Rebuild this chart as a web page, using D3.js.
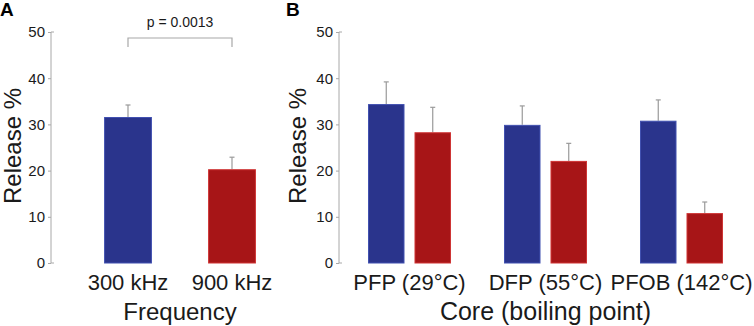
<!DOCTYPE html>
<html>
<head>
<meta charset="utf-8">
<script src="https://cdn.jsdelivr.net/npm/d3@7"></script>
<style>
  html, body { margin: 0; padding: 0; background: #fff; }
  svg { display: block; font-family: "Liberation Sans", Arial, Helvetica, sans-serif; }
</style>
</head>
<body>
<svg id="chart" width="754" height="326"></svg>
<script>
// ---- Data ----
const freqCategories = ["300 kHz", "900 kHz"];
const freqValues = [31.6, 20.3];
const freqErrors = [2.6, 2.6];

const coreCategories = ["PFP (29°C)", "DFP (55°C)", "PFOB (142°C)"];
const coreSeries = ["300 kHz", "900 kHz"];
const core300Values = [34.4, 29.9, 30.8];
const core300Errors = [4.8, 4.1, 4.5];
const core900Values = [28.3, 22.1, 10.8];
const core900Errors = [5.4, 3.8, 2.4];

const yTicks = [0, 10, 20, 30, 40, 50];
const pLabel = "p = 0.0013";

// ---- Styles ----
const BLUE = "#2a348c";
const RED = "#a71517";
const BLUE_EDGE = "#4150b0";
const RED_EDGE = "#cf3434";
const AXIS = "#a8a8a8";
const ERR = "#9a9a9a";
const TEXT = "#1a1a1a";

const svg = d3.select("#chart");
const y = d3.scaleLinear().domain([0, 50]).range([263, 32]);

function drawYAxis(g, x0, labelX) {
  const ax = g.append("g").attr("transform", `translate(${x0},0)`);
  ax.call(d3.axisLeft(y).tickValues(yTicks).tickSize(3).tickSizeOuter(0).tickPadding(3))
    .call(s => s.select(".domain").remove());
  ax.selectAll(".tick line").attr("stroke", AXIS);
  ax.selectAll(".tick text").attr("fill", TEXT).attr("font-size", 15)
    .attr("font-family", "Liberation Sans, Arial, sans-serif");
  ax.append("path")
    .attr("d", `M3,${y(50)}H0V${y(0)}H3`)
    .attr("fill", "none").attr("stroke", AXIS).attr("stroke-width", 1);
  g.append("text")
    .attr("transform", `translate(${labelX},${146}) rotate(-90)`)
    .attr("text-anchor", "middle")
    .attr("font-size", 24).attr("fill", TEXT)
    .text("Release %");
}

function drawBar(g, x, w, v, e, fill, edge) {
  g.append("line")
    .attr("x1", x + w / 2).attr("x2", x + w / 2)
    .attr("y1", y(v)).attr("y2", y(v + e))
    .attr("stroke", ERR).attr("stroke-width", 1.2);
  g.append("line")
    .attr("x1", x + w / 2 - 2.5).attr("x2", x + w / 2 + 2.5)
    .attr("y1", y(v + e)).attr("y2", y(v + e))
    .attr("stroke", ERR).attr("stroke-width", 1.2);
  g.append("rect")
    .attr("x", x + 0.5).attr("y", y(v) + 0.5)
    .attr("width", w - 1).attr("height", y(0) - y(v) - 0.5)
    .attr("fill", fill).attr("stroke", edge).attr("stroke-width", 1);
}

// ---- Panel A ----
const gA = svg.append("g");
gA.append("text").attr("x", 0).attr("y", 16).attr("font-size", 19)
  .attr("font-weight", "bold").attr("fill", "#000").text("A");
drawYAxis(gA, 51, 21);

const xA = d3.scaleBand().domain(freqCategories).range([76, 284])
  .paddingInner(0.54).paddingOuter(0.27);
const colorsA = [BLUE, RED], edgesA = [BLUE_EDGE, RED_EDGE];
freqCategories.forEach((c, i) => {
  drawBar(gA, xA(c), xA.bandwidth(), freqValues[i], freqErrors[i], colorsA[i], edgesA[i]);
});
freqCategories.forEach(c => {
  gA.append("text").attr("x", xA(c) + xA.bandwidth() / 2).attr("y", 290)
    .attr("text-anchor", "middle").attr("font-size", 22).attr("fill", TEXT).text(c);
});
gA.append("text").attr("x", (xA(freqCategories[0]) + xA(freqCategories[1]) + xA.bandwidth()) / 2)
  .attr("y", 320).attr("text-anchor", "middle").attr("font-size", 24).attr("fill", TEXT)
  .text("Frequency");

// significance bracket
const bx1 = xA(freqCategories[0]) + xA.bandwidth() / 2;
const bx2 = xA(freqCategories[1]) + xA.bandwidth() / 2;
gA.append("path").attr("d", `M${bx1},47V38H${bx2}V47`)
  .attr("fill", "none").attr("stroke", AXIS).attr("stroke-width", 1.2);
gA.append("text").attr("x", (bx1 + bx2) / 2).attr("y", 27).attr("text-anchor", "middle")
  .attr("font-size", 14).attr("fill", TEXT).text(pLabel);

// ---- Panel B ----
const gB = svg.append("g");
gB.append("text").attr("x", 286).attr("y", 16).attr("font-size", 19)
  .attr("font-weight", "bold").attr("fill", "#000").text("B");
drawYAxis(gB, 339, 306);

const xB = d3.scaleBand().domain(coreCategories).range([341.5, 749.5])
  .paddingInner(0.39).paddingOuter(0.195);
const xBi = d3.scaleBand().domain(coreSeries).range([0, xB.bandwidth()])
  .paddingInner(0.215).paddingOuter(0);
coreCategories.forEach((c, i) => {
  drawBar(gB, xB(c) + xBi(coreSeries[0]), xBi.bandwidth(), core300Values[i], core300Errors[i], BLUE, BLUE_EDGE);
  drawBar(gB, xB(c) + xBi(coreSeries[1]), xBi.bandwidth(), core900Values[i], core900Errors[i], RED, RED_EDGE);
  gB.append("text").attr("x", xB(c) + xB.bandwidth() / 2).attr("y", 290)
    .attr("text-anchor", "middle").attr("font-size", 22).attr("fill", TEXT).text(c);
});
gB.append("text").attr("x", xB(coreCategories[1]) + xB.bandwidth() / 2)
  .attr("y", 320).attr("text-anchor", "middle").attr("font-size", 25).attr("fill", TEXT)
  .text("Core (boiling point)");
</script>
</body>
</html>
